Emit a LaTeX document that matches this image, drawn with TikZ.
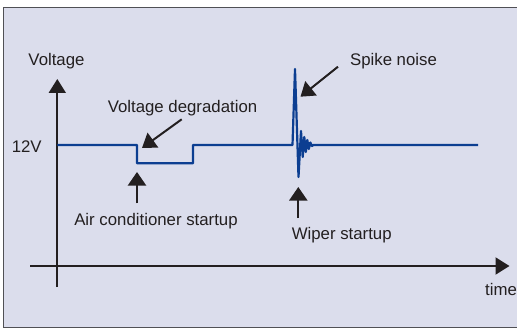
\documentclass[tikz,border=0pt]{standalone}
\usepackage{fontspec}
\setmainfont{Liberation Sans}
\usetikzlibrary{arrows.meta}
\definecolor{bg}{RGB}{219,221,236}
\definecolor{sig}{RGB}{12,62,145}
\definecolor{ink}{RGB}{35,31,32}
\definecolor{framec}{RGB}{80,80,85}
\begin{document}
\begin{tikzpicture}[x=1pt,y=-1pt,
  lbl/.style={font=\fontsize{16.8}{20}\selectfont, text=ink, inner sep=0pt, anchor=base},
  axis/.style={draw=ink, line width=2pt, -{Triangle[length=14pt,width=17pt]}},
  pointer/.style={draw=ink, line width=2pt, -{Triangle[length=13.5pt,width=18pt]}},
  signal/.style={draw=sig, line width=2.2pt, line join=round}]
\useasboundingbox (0,0) rectangle (517,329);
\fill[bg] (3.5,8) rectangle (517,327.5);
\draw[framec, line width=1pt] (517,8) -- (3.5,8) -- (3.5,327.5) -- (517,327.5);
% axes
\coordinate (yb) at (57.3,287);
\coordinate (yt) at (57.3,79);
\coordinate (xl) at (30,266);
\coordinate (xr) at (509.5,266);
\draw[axis] (yb) -- (yt);
\draw[axis] (xl) -- (xr);
% signal
\draw[signal] (57.3,145) -- (137,145) -- (137,163.3) -- (193,163.3) -- (193,145)
  -- (292.5,145) -- (295,69) -- (298.5,177) -- (301,131) -- (302.7,157)
  -- (304.3,137) -- (305.8,152) -- (307.3,140) -- (308.8,149) -- (310.3,142.5)
  -- (312,146) -- (313.5,145) -- (478,145);
% labels
\node[lbl] (vlab) at (56.5,66) {Voltage};
\node[lbl] (spk) at (393.5,66) {Spike noise};
\node[lbl] (deg) at (182.5,112) {Voltage degradation};
\node[lbl] (v12) at (26.7,152) {12V};
\node[lbl] (ac) at (156,225) {Air conditioner startup};
\node[lbl] (wip) at (341.7,239) {Wiper startup};
\node[lbl] (tm) at (501,295) {time};
% pointers
\coordinate (degT) at (181.7,119.3);
\coordinate (degH) at (142,148);
\coordinate (acT) at (137,203.3);
\coordinate (acH) at (137,172);
\coordinate (spT) at (338,66.7);
\coordinate (spH) at (300.5,96.7);
\coordinate (wpT) at (298.3,218);
\coordinate (wpH) at (298.3,187);
\draw[pointer] (degT) -- (degH);
\draw[pointer] (acT) -- (acH);
\draw[pointer] (spT) -- (spH);
\draw[pointer] (wpT) -- (wpH);
\end{tikzpicture}
\end{document}
